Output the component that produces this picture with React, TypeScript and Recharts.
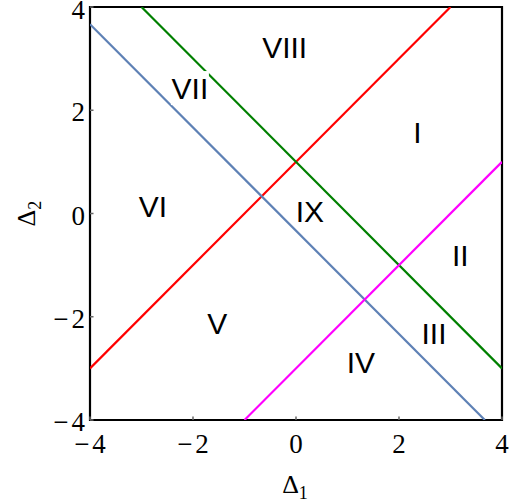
import React from "react";
import {
  ComposedChart,
  Line,
  Scatter,
  XAxis,
  YAxis,
  ReferenceArea,
} from "recharts";

// Axis range and tick values
const axisDomain: [number, number] = [-4, 4];
const xTicks = [-4, -2, 0, 2, 4];
const yTicks = [-4, -2, 0, 2, 4];

// Boundary lines, given by their end points inside the frame
const redLine = [
  { x: -4, y: -3 },
  { x: 3, y: 4 },
];
const greenLine = [
  { x: -3, y: 4 },
  { x: 4, y: -3 },
];
const blueLine = [
  { x: -4, y: 11 / 3 },
  { x: 11 / 3, y: -4 },
];
const magentaLine = [
  { x: -1, y: -4 },
  { x: 4, y: 1 },
];

// Region names and where they sit
const regionLabels = [
  { x: -0.22, y: 3.22, name: "VIII", boxed: false },
  { x: -2.06, y: 2.43, name: "VII", boxed: true },
  { x: 2.36, y: 1.58, name: "I", boxed: false },
  { x: -2.78, y: 0.13, name: "VI", boxed: false },
  { x: 0.27, y: 0.04, name: "IX", boxed: false },
  { x: 3.19, y: -0.81, name: "II", boxed: false },
  { x: -1.53, y: -2.13, name: "V", boxed: false },
  { x: 2.68, y: -2.33, name: "III", boxed: false },
  { x: 1.26, y: -2.89, name: "IV", boxed: false },
];

const serif = "'Liberation Serif', 'Times New Roman', serif";
const sans = "'Liberation Sans', Arial, sans-serif";

// Tick text with a wide minus sign set a little apart from the digits
const TickText = ({ value }: { value: number }) =>
  value < 0 ? (
    <>
      <tspan>{"\u2212"}</tspan>
      <tspan dx={3}>{String(Math.abs(value))}</tspan>
    </>
  ) : (
    <tspan>{String(value)}</tspan>
  );

const XTick = (props: any) => {
  const { x, y, payload } = props;
  return (
    <g>
      <line x1={x} y1={y} x2={x} y2={y - 3.5} stroke="#666" strokeWidth={1.5} />
      <text x={x} y={y + 33} textAnchor="middle" fontFamily={serif} fontSize={27} fill="#000">
        <TickText value={payload.value} />
      </text>
    </g>
  );
};

const YTick = (props: any) => {
  const { x, y, payload } = props;
  return (
    <g>
      <line x1={x} y1={y} x2={x + 3.5} y2={y} stroke="#666" strokeWidth={1.5} />
      <text
        x={x - 5}
        y={Math.max(y + 11, 19)}
        textAnchor="end"
        fontFamily={serif}
        fontSize={27}
        fill="#000"
      >
        <TickText value={payload.value} />
      </text>
    </g>
  );
};

const RegionName = (props: any) => {
  const { cx, cy, payload } = props;
  return (
    <g>
      {payload.boxed && (
        <rect x={cx - 19} y={cy - 17} width={38} height={34} fill="#fff" />
      )}
      <text
        x={cx}
        y={cy + 10.7}
        textAnchor="middle"
        fontFamily={sans}
        fontSize={30}
        fill="#000"
      >
        {payload.name}
      </text>
    </g>
  );
};

const XLabel = (props: any) => {
  const { viewBox } = props;
  const cx = viewBox.x + viewBox.width / 2;
  return (
    <text x={cx - 1} y={viewBox.y + 73} textAnchor="middle" fontFamily={serif} fontSize={26} fill="#000">
      Δ<tspan fontSize={18} dy={6}>1</tspan>
    </text>
  );
};

const YLabel = (props: any) => {
  const { viewBox } = props;
  const cy = viewBox.y + viewBox.height / 2;
  const lx = 35;
  return (
    <text
      x={lx}
      y={cy}
      transform={`rotate(-90, ${lx}, ${cy})`}
      textAnchor="middle"
      fontFamily={serif}
      fontSize={26}
      fill="#000"
    >
      Δ<tspan fontSize={18} dy={6}>2</tspan>
    </text>
  );
};

export default function App() {
  return (
    <div style={{ position: "absolute", left: 0, top: 0, background: "#fff" }}>
      <ComposedChart
        width={512}
        height={504}
        margin={{ top: 7, right: 10, bottom: 83, left: 89 }}
      >
        <XAxis
          type="number"
          dataKey="x"
          domain={axisDomain}
          ticks={xTicks}
          interval={0}
          allowDataOverflow
          height={1}
          tickSize={0}
          tickMargin={0}
          axisLine={false}
          tickLine={false}
          tick={<XTick />}
          label={<XLabel />}
        />
        <YAxis
          type="number"
          dataKey="y"
          domain={axisDomain}
          ticks={yTicks}
          interval={0}
          allowDataOverflow
          width={1}
          tickSize={0}
          tickMargin={0}
          axisLine={false}
          tickLine={false}
          tick={<YTick />}
          label={<YLabel />}
        />
        <Line data={redLine} dataKey="y" stroke="#ff0000" strokeWidth={2.2} dot={false} isAnimationActive={false} />
        <Line data={greenLine} dataKey="y" stroke="#008000" strokeWidth={2.2} dot={false} isAnimationActive={false} />
        <Line data={blueLine} dataKey="y" stroke="#5e81b5" strokeWidth={2.2} dot={false} isAnimationActive={false} />
        <Line data={magentaLine} dataKey="y" stroke="#ff00ff" strokeWidth={2.2} dot={false} isAnimationActive={false} />
        <Scatter
          data={regionLabels}
          dataKey="y"
          shape={<RegionName />}
          isAnimationActive={false}
        />
        <ReferenceArea
          x1={-4}
          x2={4}
          y1={-4}
          y2={4}
          fill="none"
          stroke="#000"
          strokeWidth={2.2}
          fillOpacity={0}
        />
      </ComposedChart>
    </div>
  );
}
